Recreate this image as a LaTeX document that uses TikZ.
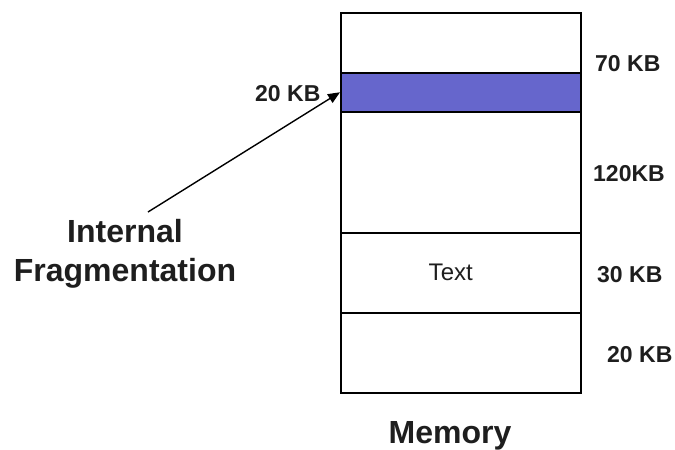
\documentclass[tikz,border=0pt]{standalone}
\usepackage{fontspec}
\setmainfont{Liberation Sans}
\usetikzlibrary{arrows.meta}
\definecolor{fragblue}{RGB}{102,102,204}
\definecolor{inkgray}{RGB}{30,30,30}
\tikzset{
  block/.style={draw=black, line width=1.5pt, minimum width=240pt, inner sep=0pt, anchor=north west},
  sizelabel/.style={font=\fontsize{23}{27}\selectfont\bfseries, text=inkgray, inner sep=0pt, anchor=base west},
  title/.style={font=\fontsize{32}{39}\selectfont\bfseries, text=inkgray, inner sep=0pt},
  pointer/.style={draw=black, line width=1.4pt, -{Triangle[length=12pt,width=10pt]}}
}
\begin{document}
\begin{tikzpicture}[x=1pt,y=-1pt]
  \useasboundingbox (0,0) rectangle (675,450);
  \fill[white] (0,0) rectangle (675,450);

  % memory segments, top to bottom
  \node[block, minimum height=60pt]  (seg70)  at (340,12)  {};
  \node[block, minimum height=39pt, fill=fragblue] (frag) at (340,72) {};
  \node[block, minimum height=121pt] (seg120) at (340,111) {};
  \node[block, minimum height=80pt]  (seg30)  at (340,232) {};
  \node[block, minimum height=80pt]  (seg20)  at (340,312) {};
  \node[inner sep=0pt, font=\fontsize{24}{28}\selectfont, text=inkgray] (segtext)
    at ([xshift=-10pt]seg30.center) {Text};

  % sizes
  \node[sizelabel] (l70)  at (595,71)  {70 KB};
  \node[sizelabel] (l20a) at (255,101) {20 KB};
  \node[sizelabel] (l120) at (593,181) {120KB};
  \node[sizelabel] (l30)  at (597,282) {30 KB};
  \node[sizelabel] (l20b) at (607,362) {20 KB};

  % captions
  \node[title, align=center] (intfrag) at (125,254) {Internal\\Fragmentation};
  \node[title, anchor=base] (mem) at (450,443) {Memory};

  % pointer to the wasted block
  \coordinate (fragtail) at (148,212);
  \draw[pointer] (fragtail) -- (frag.west);
\end{tikzpicture}
\end{document}
